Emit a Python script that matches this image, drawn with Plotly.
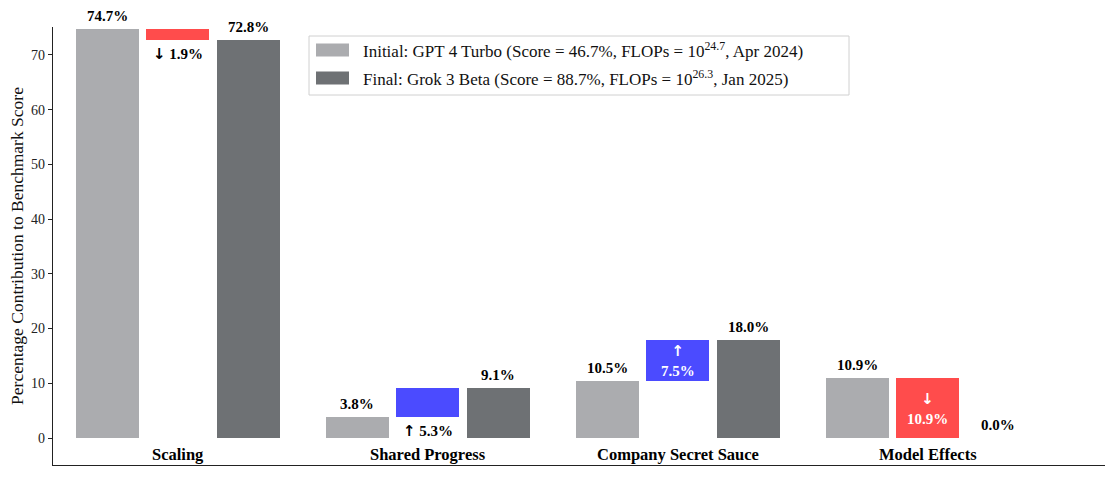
import plotly.graph_objects as go

categories = ["Scaling", "Shared Progress", "Company Secret Sauce", "Model Effects"]
initial_values = [74.7, 3.8, 10.5, 10.9]
final_values = [72.8, 9.1, 18.0, 0.0]
change_values = [f - i for i, f in zip(initial_values, final_values)]
legend_labels = [
    "Initial: GPT 4 Turbo (Score = 46.7%, FLOPs = 10<sup>24.7</sup>, Apr 2024)",
    "Final: Grok 3 Beta (Score = 88.7%, FLOPs = 10<sup>26.3</sup>, Jan 2025)",
]
y_ticks = [0, 10, 20, 30, 40, 50, 60, 70]

C_INIT = "#ABACAF"
C_FINAL = "#6E7174"
C_UP = "#4B4BFF"
C_DOWN = "#FF4C4C"
FONT = "Liberation Serif"
ARROW_SPAN = '<span style="font-family:DejaVu Sans">{}</span>'

W, H = 1118, 479
ML, MR, MT, MB = 53, 13, 27, 14
PW, PH = W - ML - MR, H - MT - MB


def px(x):
    return (x - ML) / PW


def py(y):
    return (H - MB - y) / PH


off = 0.282
w = 0.252
idx = list(range(len(categories)))
x_init = [i - off for i in idx]
x_chg = list(idx)
x_fin = [i + off for i in idx]

fig = go.Figure()
fig.add_trace(go.Bar(x=x_init, y=initial_values, width=w, marker=dict(color=C_INIT, line=dict(width=0)),
                     name=legend_labels[0], showlegend=False, cliponaxis=False))
chg_base = [min(i, f) for i, f in zip(initial_values, final_values)]
chg_h = [abs(c) for c in change_values]
chg_col = [C_UP if c > 0 else C_DOWN for c in change_values]
fig.add_trace(go.Bar(x=x_chg, y=chg_h, base=chg_base, width=w, marker=dict(color=chg_col, line=dict(width=0)),
                     showlegend=False, cliponaxis=False))
fig.add_trace(go.Bar(x=x_fin, y=final_values, width=w, marker=dict(color=C_FINAL, line=dict(width=0)),
                     name=legend_labels[1], showlegend=False, cliponaxis=False))

ann = []
for i in idx:
    ann.append(dict(x=x_init[i], y=initial_values[i], text=f"<b>{initial_values[i]:.1f}%</b>",
                    yanchor="bottom", yshift=3, showarrow=False, font=dict(size=15, color="black", family=FONT)))
    ann.append(dict(x=x_fin[i], y=final_values[i], text=f"<b>{final_values[i]:.1f}%</b>",
                    yanchor="bottom", yshift=3, showarrow=False, font=dict(size=15, color="black", family=FONT)))
    c = change_values[i]
    arrow = ARROW_SPAN.format("↑" if c > 0 else "↓")
    if abs(c) > 6:
        ann.append(dict(x=x_chg[i], y=chg_base[i] + chg_h[i] / 2, text=f"<b>{arrow}<br>{abs(c):.1f}%</b>",
                        yanchor="middle", showarrow=False,
                        font=dict(size=15, color="white", family=FONT)))
    else:
        ann.append(dict(x=x_chg[i], y=chg_base[i], text=f"<b>{arrow} {abs(c):.1f}%</b>",
                        yanchor="top", yshift=-3, showarrow=False,
                        font=dict(size=15, color="black", family=FONT)))
    ann.append(dict(x=i, y=-3.1, text=f"<b>{categories[i]}</b>", yanchor="middle", showarrow=False,
                    font=dict(size=16.5, color="black", family=FONT)))

# custom legend (box, swatches, labels)
shapes = [dict(type="rect", xref="paper", yref="paper", x0=px(309), x1=px(849), y0=py(95), y1=py(36),
               line=dict(color="#D0D0D0", width=1), fillcolor="rgba(255,255,255,0.85)", layer="above")]
for k, (col, lab) in enumerate(zip([C_INIT, C_FINAL], legend_labels)):
    cy = 50 + 28 * k
    shapes.append(dict(type="rect", xref="paper", yref="paper", x0=px(316), x1=px(349),
                       y0=py(cy + 6.5), y1=py(cy - 6.5), line=dict(width=0), fillcolor=col, layer="above"))
    ann.append(dict(xref="paper", yref="paper", x=px(361), y=py(cy), text=lab, xanchor="left",
                    yanchor="middle", showarrow=False, font=dict(size=17, color="#111111", family=FONT)))

fig.update_layout(
    width=W, height=H,
    margin=dict(l=ML, r=MR, t=MT, b=MB),
    paper_bgcolor="white", plot_bgcolor="white",
    font=dict(family=FONT, color="black"),
    barmode="overlay",
    bargap=0,
    annotations=ann,
    shapes=shapes,
    showlegend=False,
    xaxis=dict(range=[-0.5, 3.71], showticklabels=False, ticks="", showgrid=False, zeroline=False,
               showline=True, linecolor="#222222", linewidth=1.3, automargin=False),
    yaxis=dict(range=[-4.93, 75.1], tickvals=y_ticks, ticks="outside", ticklen=4, tickwidth=1,
               tickcolor="#222222", showgrid=False, zeroline=False, showline=True, linecolor="#222222",
               linewidth=1.3, tickfont=dict(size=14, family=FONT, color="#222222"), automargin=False,
               title=dict(text="Percentage Contribution to Benchmark Score", standoff=2,
                          font=dict(size=17.5, family=FONT, color="#111111"))),
)

fig.write_html("out.html", config={"displayModeBar": False},
               post_script="document.body.style.margin='0';document.body.style.overflow='hidden';")
